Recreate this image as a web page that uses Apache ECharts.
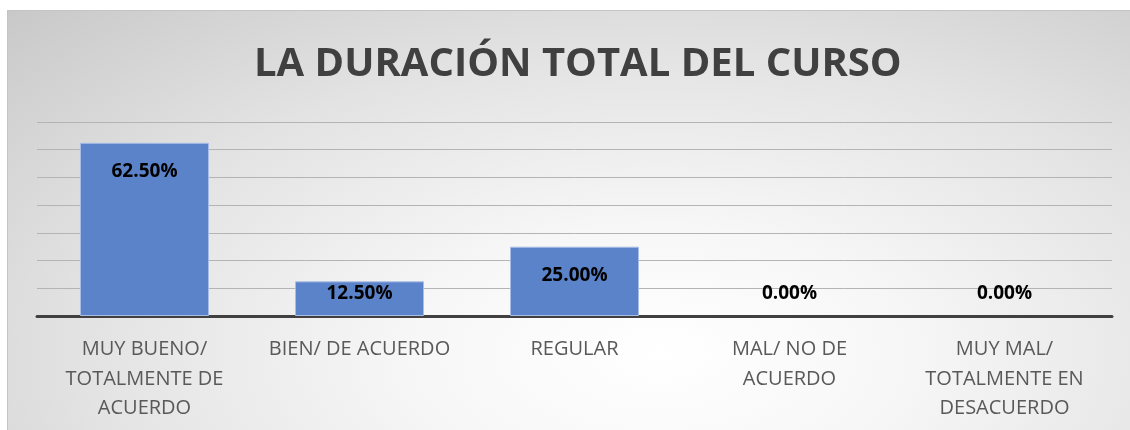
<!DOCTYPE html>
<html>
<head>
<meta charset="utf-8">
<script src="https://cdn.jsdelivr.net/npm/echarts@6/dist/echarts.min.js"></script>
<style>
  html, body { margin: 0; padding: 0; background: #ffffff; }
  #panel {
    position: absolute; left: 7px; top: 10px; width: 1123px; height: 420px;
    border-top: 1px solid #c4c4c4; border-left: 1px solid #c4c4c4;
    box-sizing: border-box;
    background: radial-gradient(ellipse 85% 120% at 58% 82%, #ffffff 0%, #f7f7f7 25%, #e3e3e3 60%, #c6c6c6 100%);
  }
  #echart { position: absolute; left: 0; top: 0; width: 1130px; height: 430px; }
</style>
</head>
<body>
<div id="panel"></div>
<div id="echart"></div>
<script>
    // datos del gráfico
    var categorias = ['MUY BUENO/\nTOTALMENTE DE\nACUERDO', 'BIEN/ DE ACUERDO', 'REGULAR', 'MAL/ NO DE\nACUERDO', 'MUY MAL/\nTOTALMENTE EN\nDESACUERDO'];
    var porcentajes = [62.5, 12.5, 25, 0, 0];
    var titulo = 'LA DURACIÓN TOTAL DEL CURSO';

    let myChart = echarts.init(document.getElementById('echart'));

    // barras bajas: etiqueta fija sobre la base, como en Excel
    var datos = porcentajes.map(function (v) {
        var d = { value: v };
        if (v < 20) {
            d.label = { position: 'insideBottom', distance: 13 };
        }
        if (v === 0) {
            d.itemStyle = { borderWidth: 0 };
        }
        return d;
    });

    var option = {
        backgroundColor: 'transparent',
        animation: false,
        title: {
            text: titulo,
            left: 249,
            top: 40,
            textStyle: {
                fontFamily: 'Open Sans',
                fontWeight: 'bold',
                fontSize: 40,
                color: '#404040'
            }
        },
        grid: { left: 37, right: 18, top: 122, bottom: 114 },
        xAxis: {
            type: 'category',
            data: categorias,
            axisTick: { show: false },
            axisLine: { lineStyle: { color: '#404040', width: 3 } },
            axisLabel: {
                interval: 0,
                margin: 19,
                fontFamily: 'Open Sans',
                fontSize: 20,
                lineHeight: 29.5,
                color: '#595959'
            }
        },
        yAxis: {
            type: 'value',
            min: 0,
            max: 70,
            interval: 10,
            axisLabel: { show: false },
            axisLine: { show: false },
            axisTick: { show: false },
            splitLine: { lineStyle: { color: '#b4b4b4', width: 1 } }
        },
        series: [{
            type: 'bar',
            data: datos,
            barWidth: '60%',
            itemStyle: {
                color: '#5b83c9',
                borderColor: '#a8bde6',
                borderWidth: 1
            },
            label: {
                show: true,
                position: 'insideTop',
                distance: 19,
                fontFamily: 'Open Sans',
                fontWeight: 'bold',
                fontSize: 19,
                color: '#000000',
                formatter: function (p) { return p.value.toFixed(2) + '%'; }
            }
        }]
    };
    myChart.setOption(option);
</script>
</body>
</html>
